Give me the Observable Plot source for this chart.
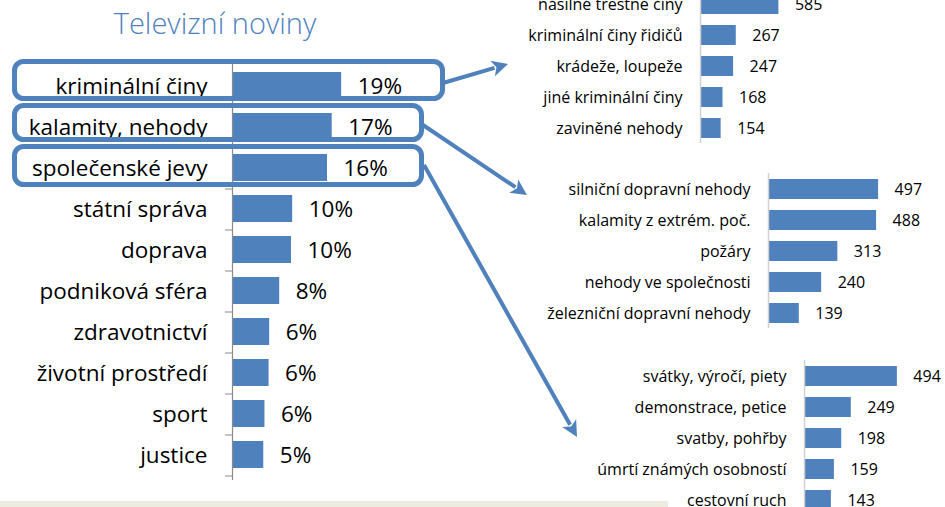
<!DOCTYPE html>
<html><head><meta charset="utf-8">
<script src="https://cdn.jsdelivr.net/npm/d3@7"></script>
<script src="https://cdn.jsdelivr.net/npm/@observablehq/plot@0.6"></script>
<style>
html,body{margin:0;padding:0;background:#fff;}
#root{position:relative;width:945px;height:507px;overflow:hidden;background:#fff;font-family:'Open Sans',sans-serif;}
#root svg{position:absolute;overflow:visible;}
#title{position:absolute;left:0;width:430px;top:8px;line-height:29px;text-align:center;font-size:29px;font-weight:300;color:#4F81BD;white-space:nowrap;}
#strip{position:absolute;left:0;top:501px;width:668px;height:6px;background:#EEECE1;}
</style></head><body>
<div id="root"><div id="title">Televizní noviny</div><div id="strip"></div></div>
<script>
// main chart
const tvCategories = ["kriminální činy","kalamity, nehody","společenské jevy","státní správa","doprava","podniková sféra","zdravotnictví","životní prostředí","sport","justice"];
const tvShare = [18.5, 16.9, 16.1, 10.2, 10.0, 8.0, 6.3, 6.2, 5.5, 5.3];
const tvLabels = ["19%","17%","16%","10%","10%","8%","6%","6%","6%","5%"];
// detail charts
const crimeCategories = ["násilné trestné činy","kriminální činy řidičů","krádeže, loupeže","jiné kriminální činy","zaviněné nehody"];
const crimeCounts = [585, 267, 247, 168, 154];
const accidentCategories = ["silniční dopravní nehody","kalamity z extrém. poč.","požáry","nehody ve společnosti","železniční dopravní nehody"];
const accidentCounts = [497, 488, 313, 240, 139];
const socialCategories = ["svátky, výročí, piety","demonstrace, petice","svatby, pohřby","úmrtí známých osobností","cestovní ruch"];
const socialCounts = [494, 249, 198, 159, 143];

const BLUE = "#4F81BD";
const FONT = "'Open Sans', sans-serif";
const root = document.getElementById("root");

const tv = tvCategories.map((c, i) => ({c, v: tvShare[i], l: tvLabels[i]}));
const main = Plot.plot({
  width: 450, height: 500,
  marginLeft: 232, marginRight: 100, marginTop: 60, marginBottom: 20,
  x: {domain: [0, 20], axis: null},
  y: {domain: tvCategories, paddingInner: 0.333, paddingOuter: 0.1667, axis: null},
  style: {fontFamily: FONT, fontSize: "22px", background: "transparent", color: "#000", overflow: "visible"},
  marks: [
    Plot.barX(tv, {x: "v", y: "c", fill: BLUE}),
    Plot.ruleX([0], {stroke: "#8a8a8a", strokeWidth: 1.2}),
    Plot.axisY({anchor: "left", tickSize: 7, tickFormat: () => "", dy: 21, stroke: "#8a8a8a", label: null}),
    Plot.text(tv, {y: "c", text: "c", frameAnchor: "left", dx: -25, dy: 1, textAnchor: "end", fontSize: 22.5, fill: "#000"}),
    Plot.text(tv, {x: "v", y: "c", text: "l", dx: 16, dy: 1, textAnchor: "start", fontSize: 22.5, fill: "#000"})
  ]
});
main.style.left = "0px"; main.style.top = "0px";
root.append(main);

function subChart(cats, vals, axisX, pxPerUnit, domainMax, top) {
  const data = cats.map((c, i) => ({c, v: vals[i]}));
  const step = 31;
  const p = Plot.plot({
    width: 945, height: step * cats.length,
    marginLeft: axisX, marginRight: 945 - axisX - domainMax * pxPerUnit, marginTop: 0, marginBottom: 0,
    x: {domain: [0, domainMax], axis: null},
    y: {domain: cats, paddingInner: 0.355, paddingOuter: 0.1775, axis: null},
    style: {fontFamily: FONT, fontSize: "16px", background: "transparent", color: "#000", overflow: "visible"},
    marks: [
      Plot.barX(data, {x: "v", y: "c", fill: BLUE}),
      Plot.ruleX([0], {stroke: "#d0d0d0", strokeWidth: 1.5}),
      Plot.text(data, {y: "c", text: "c", frameAnchor: "left", dx: -18, textAnchor: "end", fontSize: 16, fill: "#000"}),
      Plot.text(data, {x: "v", y: "c", text: d => String(d.v), dx: 16, textAnchor: "start", fontSize: 16, fill: "#000"})
    ]
  });
  p.style.left = "0px"; p.style.top = top + "px";
  root.append(p);
  return p;
}
subChart(crimeCategories, crimeCounts, 700, 0.134, 600, -12.5);
subChart(accidentCategories, accidentCounts, 768, 0.2215, 500, 172.5);
subChart(socialCategories, socialCounts, 804, 0.188, 500, 359.5);

// annotation overlay: boxes and arrows
const boxes = [
  {x0: 14.5, x1: 442.5, y0: 61.5, y1: 98.5},
  {x0: 14.5, x1: 421.5, y0: 105.5, y1: 139.5},
  {x0: 14.5, x1: 421.5, y0: 146.5, y1: 184.5}
];
const arrows = [
  {x0: 443, y0: 83, x1: 508, y1: 64},
  {x0: 423, y0: 125, x1: 527, y1: 195},
  {x0: 424, y0: 165, x1: 577, y1: 437}
];
const svg = d3.create("svg").attr("width", 945).attr("height", 507).style("left", "0px").style("top", "0px");
svg.selectAll("rect").data(boxes).join("rect")
  .attr("x", d => d.x0).attr("y", d => d.y0)
  .attr("width", d => d.x1 - d.x0).attr("height", d => d.y1 - d.y0)
  .attr("rx", 9).attr("ry", 9)
  .attr("fill", "none").attr("stroke", BLUE).attr("stroke-width", 5);
const L = 16, W = 8;
arrows.forEach(a => {
  const dx = a.x1 - a.x0, dy = a.y1 - a.y0, len = Math.hypot(dx, dy);
  const ux = dx / len, uy = dy / len;
  const bx = a.x1 - ux * L, by = a.y1 - uy * L;
  svg.append("line").attr("x1", a.x0).attr("y1", a.y0).attr("x2", bx + ux * 2).attr("y2", by + uy * 2)
    .attr("stroke", BLUE).attr("stroke-width", 4);
  svg.append("path")
    .attr("d", `M${a.x1},${a.y1}L${bx - uy * W},${by + ux * W}L${bx + ux * 4},${by + uy * 4}L${bx + uy * W},${by - ux * W}Z`)
    .attr("fill", BLUE);
});
root.append(svg.node());
</script>
</body></html>
